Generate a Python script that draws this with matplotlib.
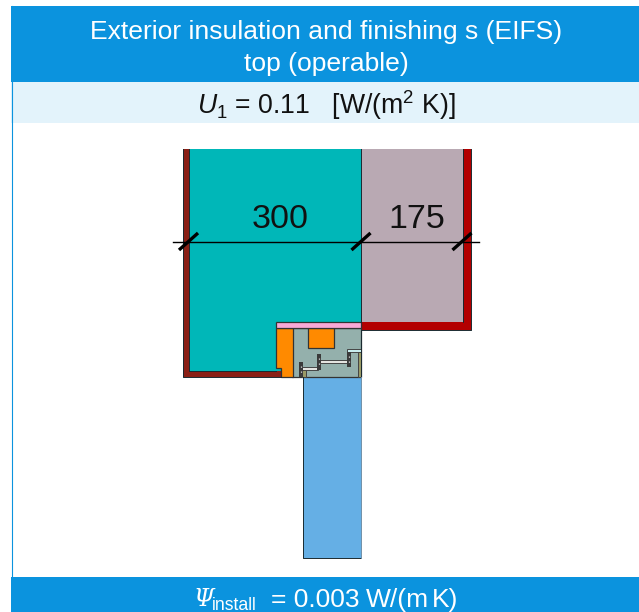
import matplotlib
matplotlib.use("Agg")
import matplotlib.pyplot as plt
from matplotlib.patches import Polygon, Rectangle

plt.rcParams["font.family"] = ["Liberation Sans", "DejaVu Sans"]
plt.rcParams["mathtext.fontset"] = "custom"
plt.rcParams["mathtext.rm"] = "Liberation Sans"
plt.rcParams["mathtext.it"] = "Liberation Sans:italic"

BLUE = "#0b93de"
PALE = "#e3f3fb"
EDGE = "#1a2a30"

title_lines = ["Exterior insulation and finishing s (EIFS)", "top (operable)"]
u_label = r"$\mathit{U}_{1}$ = 0.11   [W/(m$^{2}$ K)]"
dim_labels = ["300", "175"]

# section outlines, in picture pixels: (colour, points)
wall_shapes = [
    ("#8a2016", [(183, 149), (189, 149), (189, 371), (281, 371), (281, 377), (183, 377)]),
    ("#00b7b8", [(189, 149), (361, 149), (361, 322), (276, 322), (276, 368), (281, 368), (281, 371), (189, 371)]),
    ("#b9a9b3", [(361, 149), (463, 149), (463, 322), (361, 322)]),
    ("#b30000", [(463, 149), (471, 149), (471, 330), (361, 330), (361, 322), (463, 322)]),
    ("#65afe5", [(302.5, 377), (361, 377), (361, 558), (302.5, 558)]),
]
frame_shapes = [
    ("#94b0ac", [(292, 328), (361, 328), (361, 377), (302, 377), (302, 376.5), (292, 376.5)]),
    ("#ff8a00", [(276, 328), (292.5, 328), (292.5, 376.5), (281, 376.5), (281, 368), (276, 368)]),
    ("#ff8a00", [(307.5, 328), (333.5, 328), (333.5, 348), (307.5, 348)]),
    ("#f9a9d6", [(276, 322), (361, 322), (361, 328), (276, 328)]),
]
# glazing bars and spacers inside the frame: (colour, x0, y0, x1, y1)
frame_bars = [
    ("#e4e4e0", 302, 367, 318, 370),
    ("#e4e4e0", 320, 359.5, 347, 362.5),
    ("#c9eef0", 347, 348.5, 361, 352),
    ("#9a9a66", 302, 370, 306, 377),
    ("#9a9a66", 358, 352, 361, 377),
]
frame_clips = [(299, 362, 303, 377), (317, 354, 321, 370), (347, 352, 351, 367)]
wall_edges = [
    [(189, 149), (189, 371), (276, 371)],
    [(361, 149), (361, 322)],
    [(463, 149), (463, 322)],
    [(183, 149), (183, 377), (281, 377)],
    [(471, 149), (471, 330), (361, 330)],
    [(302.5, 377), (302.5, 558), (361, 558)],
    [(361, 330), (361, 377)],
]

dim_y = 241.5
dim_x = [188.5, 361, 462]

fig = plt.figure(figsize=(6.39, 6.12), dpi=100)
ax = fig.add_axes([0, 0, 1, 1])
ax.set_xlim(0, 639)
ax.set_ylim(612, 0)
ax.axis("off")

# ---------- BANDS ----------
ax.add_patch(Rectangle((11, 6), 628, 76, fc=BLUE, ec="none"))
ax.add_patch(Rectangle((11, 82), 628, 41, fc=PALE, ec="none"))
ax.add_patch(Rectangle((11, 577), 628, 35, fc=BLUE, ec="none"))
ax.plot([11.5, 11.5], [6, 577], color=BLUE, lw=0.8)

ax.text(326.5, 32, title_lines[0], color="white", fontsize=19.05, ha="center", va="center")
ax.text(326.5, 64, title_lines[1], color="white", fontsize=19.05, ha="center", va="center")
ax.text(326, 105, u_label, color="#111111", fontsize=19.2, ha="center", va="center")

# ---------- SECTION ----------
for colour, points in wall_shapes:
    ax.add_patch(Polygon(points, closed=True, fc=colour, ec="none"))
for points in wall_edges:
    ax.plot(*zip(*points), color=EDGE, lw=0.7)
ax.plot([361, 361], [377, 558], color="#6f8fa8", lw=0.7)
for colour, points in frame_shapes:
    ax.add_patch(Polygon(points, closed=True, fc=colour, ec="#333333", lw=0.9))
for colour, x0, y0, x1, y1 in frame_bars:
    ax.add_patch(Rectangle((x0, y0), x1 - x0, y1 - y0, fc=colour, ec="#444444", lw=0.7))
for x0, y0, x1, y1 in frame_clips:
    ax.add_patch(Rectangle((x0, y0), x1 - x0, y1 - y0, fc="#3a3a3a", ec="none"))
    ax.plot([(x0 + x1) / 2] * 2, [y0 + 4, y1 - 4], color="#dddddd", lw=0.9, ls=(0, (1, 3)))

# ---------- DIMENSIONS ----------
ax.plot([173, 479], [dim_y, dim_y], color="black", lw=1)
for x in dim_x:
    ax.plot([x - 9.5, x + 9.5], [dim_y + 8.5, dim_y - 8.5], color="black", lw=2.4, solid_capstyle="butt")
ax.text(280, 219, dim_labels[0], color="#111111", fontsize=24.5, ha="center", va="center")
ax.text(417, 219, dim_labels[1], color="#111111", fontsize=24.5, ha="center", va="center")

# ---------- FOOTER ----------
ax.text(193, 600, "Ψ", family="DejaVu Serif", style="italic", color="white", fontsize=17, ha="left", va="center")
ax.text(212, 605, "install", color="white", fontsize=12.7, ha="left", va="center")
ax.text(271, 600, "= 0.003", color="white", fontsize=19, ha="left", va="center")
ax.text(366, 600, "W/(m", color="white", fontsize=19, ha="left", va="center")
ax.text(432, 600, "K)", color="white", fontsize=19, ha="left", va="center")

fig.savefig("out.png", dpi=100)
